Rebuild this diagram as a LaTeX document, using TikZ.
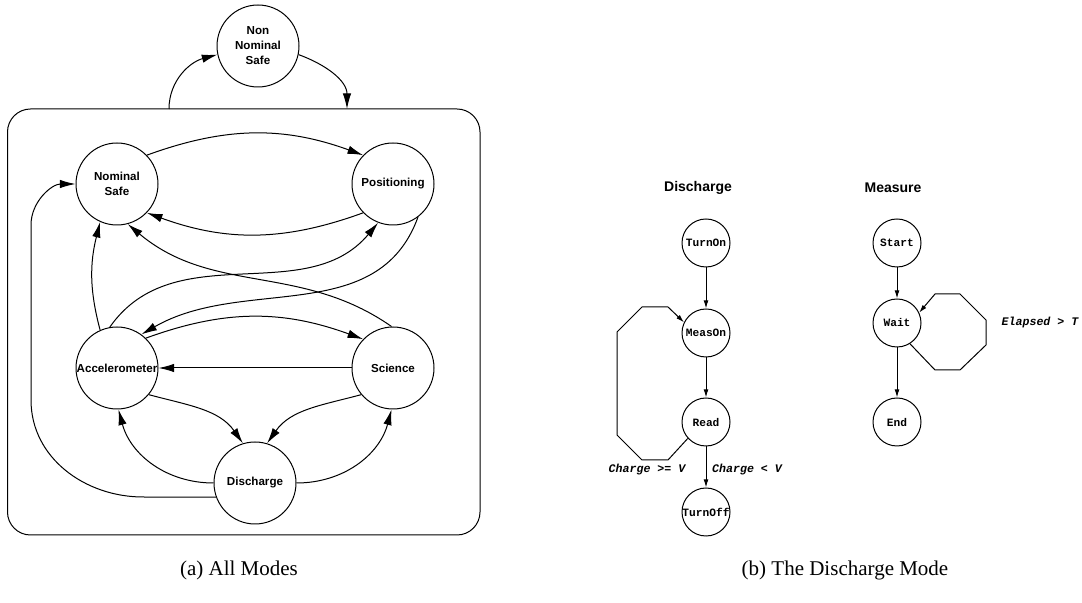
\documentclass[tikz,border=0pt]{standalone}
\usepackage{fontspec}
\setmainfont{Liberation Serif}
\setmonofont{Liberation Mono}
\newfontfamily\hv{Liberation Sans}
\usetikzlibrary{arrows.meta}

\begin{document}
\begin{tikzpicture}[x=0.5pt,y=0.5pt,line width=0.5pt,
  mode/.style={draw,circle,minimum size=41pt,align=center,font=\hv\bfseries\fontsize{5.8}{7.5}\selectfont},
  sub/.style={draw,circle,minimum size=24pt,font=\ttfamily\bfseries\fontsize{5.6}{6.5}\selectfont},
  head/.style={font=\hv\bfseries\fontsize{7}{8}\selectfont},
  guard/.style={font=\ttfamily\bfseries\itshape\fontsize{5.8}{6.5}\selectfont},
  subcap/.style={font=\fontsize{10.5}{12}\selectfont},
  big/.style={-{Latex[length=7.8pt,width=4.2pt]}},
  small/.style={-{Latex[length=4pt,width=2.4pt]}}]
\tikzstyle{every node}+=[inner sep=0pt]
\useasboundingbox (0,0) rectangle (1082,-603);
% (a) all modes
\draw [rounded corners=11.5pt] (7.5,-109) rectangle (480,-535);
\coordinate (leave) at (169,-109);
\coordinate (back) at (347,-109);
\node [mode] (nns) at (258,-46) {Non\\Nominal\\Safe};
\node [mode] (ns) at (117,-184) {Nominal\\Safe};
\node [mode] (pos) at (393,-184) {Positioning};
\node [mode] (acc) at (117,-368) {Accelerometer};
\node [mode] (sci) at (393,-368) {Science};
\node [mode] (dis) at (255,-483) {Discharge};
\draw [big] (leave) to[out=90,in=195] (nns.192);
\draw [big] (nns.-12) to[out=-20,in=90] (back);
\draw [big] (ns.44) to[out=20,in=160] (pos.136);
\draw [big] (pos.-136) to[out=200,in=-20] (ns.-44);
\draw [big] (acc.114) to[out=105,in=256] (ns.246);
\draw [big] (sci.92) to[out=145,in=-40] (ns.-75);
\draw [big] (acc.100) to[out=55,in=230] (pos.249);
\draw [big] (pos.-53) to[out=-110,in=30] (acc.54);
\draw [big] (acc.46) to[out=20,in=160] (sci.136);
\draw [big] (sci) -- (acc);
\draw [big] (acc.-40) to[out=-15,in=125] (dis.107);
\draw [big] (sci.-140) to[out=195,in=55] (dis.73);
\draw [big] (dis.180) to[out=180,in=-75] (acc.-88);
\draw [big] (dis.0) to[out=0,in=-105] (sci.-92);
\draw [big] (dis.200) -- (143,-497) to[out=180,in=-90] (31,-400) -- (31,-225) to[out=90,in=180] (ns.180);
% (b) discharge mode
\node [head] (tdis) at (698,-188) {Discharge};
\node [sub] (on) at (706,-243) {TurnOn};
\node [sub] (meas) at (706,-333) {MeasOn};
\node [sub] (read) at (706,-422) {Read};
\node [sub] (off) at (706,-512) {TurnOff};
\draw [small] (on) -- (meas);
\draw [small] (meas) -- (read);
\draw [small] (read) -- (off);
\draw [small] (read.-138) -- (668,-460) -- (642,-460) -- (617,-435) -- (617,-332) -- (642,-307) -- (668,-307) -- (meas.154);
\node [guard] (ge) at (647,-470) {Charge >= V};
\node [guard] (lt) at (747,-470) {Charge < V};
\node [head] (tmeas) at (893,-188) {Measure};
\node [sub] (start) at (897,-243) {Start};
\node [sub] (wait) at (897,-323) {Wait};
\node [sub] (end) at (897,-422) {End};
\draw [small] (start) -- (wait);
\draw [small] (wait) -- (end);
\draw [small] (wait.-58) -- (935,-370) -- (960,-370) -- (986,-345) -- (986,-320) -- (960,-294) -- (935,-294) -- (wait.25);
\node [guard] (el) at (1040,-323) {Elapsed > T};
% captions
\node [subcap] (capa) at (239,-570) {(a) All Modes};
\node [subcap] (capb) at (845,-570) {(b) The Discharge Mode};
\end{tikzpicture}
\end{document}
